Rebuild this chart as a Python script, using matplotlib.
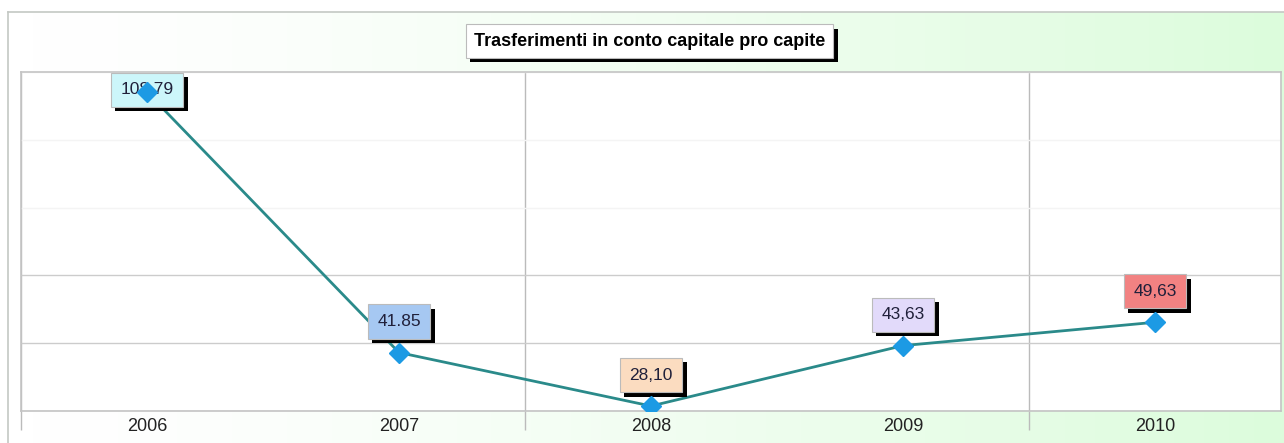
import numpy as np
import matplotlib.pyplot as plt
from matplotlib import patheffects
from matplotlib.colors import LinearSegmentedColormap

# valori pro capite per anno
anni = ["2006", "2007", "2008", "2009", "2010"]
valori = [108.79, 41.85, 28.10, 43.63, 49.63]
etichette = ["108,79", "41.85", "28,10", "43,63", "49,63"]
colori_box = ["#ccf6fa", "#a6c8f2", "#fbdcc0", "#e2dafa", "#f28282"]

titolo = "Trasferimenti in conto capitale pro capite"

W, H = 1284, 443
fig = plt.figure(figsize=(W / 100, H / 100), dpi=100)
fig.patch.set_facecolor("white")

# sfondo sfumato bianco -> verde chiaro
sfondo = fig.add_axes([8 / W, 0, 1 - 8 / W, (H - 12) / H], zorder=0)
grad = np.linspace(0, 1, 256) ** 1.4
cmap = LinearSegmentedColormap.from_list("sf", ["#ffffff", "#dcfcdc"])
sfondo.imshow(grad[None, :], aspect="auto", cmap=cmap, extent=[0, 1, 0, 1])
sfondo.set_xlim(0, 1)
sfondo.set_ylim(0, 1)
sfondo.set_xticks([])
sfondo.set_yticks([])
for s in ["right", "bottom"]:
    sfondo.spines[s].set_visible(False)
for s in ["left", "top"]:
    sfondo.spines[s].set_color("#c4c8c4")
    sfondo.spines[s].set_linewidth(1.2)

ax = fig.add_axes([21 / W, (H - 411) / H, (1281 - 21) / W, (411 - 72) / H], zorder=1)
ax.set_facecolor("white")
x = np.arange(len(anni))
ax.set_xlim(-0.5, len(anni) - 0.5)
ax.set_ylim(26.82, 113.97)

# griglia orizzontale: le due superiori quasi invisibili
ax.set_yticks(np.linspace(26.82, 113.97, 6))
ax.set_yticklabels([])
ax.tick_params(axis="y", length=0)
ax.yaxis.grid(True, linewidth=1)
for i, gl in enumerate(ax.get_ygridlines()):
    gl.set_color("#cccccc" if i < 3 else "#f4f4f4")

# griglia verticale ogni due categorie
ax.set_xticks(x)
ax.set_xticklabels(anni, fontsize=13, family="Liberation Sans", color="#222222")
ax.tick_params(axis="x", length=0, pad=5)
ax.set_xticks([-0.5, 1.5, 3.5], minor=True)
ax.tick_params(axis="x", which="minor", length=14, color="#bbbbbb", width=1)
ax.xaxis.grid(True, which="minor", color="#bbbbbb", linewidth=1)
ax.set_axisbelow(True)
for s in ax.spines.values():
    s.set_color("#c4c4c4")
    s.set_linewidth(1.2)

ax.plot(x, valori, color="#2a8a8a", linewidth=2, zorder=3)
ax.plot(x, valori, linestyle="none", marker="D", markersize=10,
        color="#1c9ae4", markeredgecolor="#1c9ae4", zorder=6)

fig.canvas.draw()
ombra = [patheffects.SimplePatchShadow(offset=(3.2, -3.2), shadow_rgbFace="black", alpha=1),
         patheffects.Normal()]
top = ax.bbox.y1
for xi, v, lab, c in zip(x, valori, etichette, colori_box):
    yd = ax.transData.transform((xi, v))[1]
    off = min(31, top - yd - 18)
    t = ax.annotate(lab, (xi, v), xytext=(0, off * 0.72), textcoords="offset points",
                    ha="center", va="center", fontsize=12.5, family="Liberation Sans",
                    color="#20203a", zorder=5,
                    bbox=dict(boxstyle="square,pad=0.55", facecolor=c,
                              edgecolor="#bbbbbb", linewidth=0.8))
    t.get_bbox_patch().set_path_effects(ombra)

tt = fig.text(0.5 * (469 + 830) / W, 1 - 41 / H, titolo, ha="center", va="center",
              fontsize=13, fontweight="bold", family="Liberation Sans", zorder=5,
              bbox=dict(boxstyle="square,pad=0.45", facecolor="white",
                        edgecolor="#bbbbbb", linewidth=0.8))
tt.get_bbox_patch().set_path_effects(ombra)

fig.savefig("out.png", dpi=100)
